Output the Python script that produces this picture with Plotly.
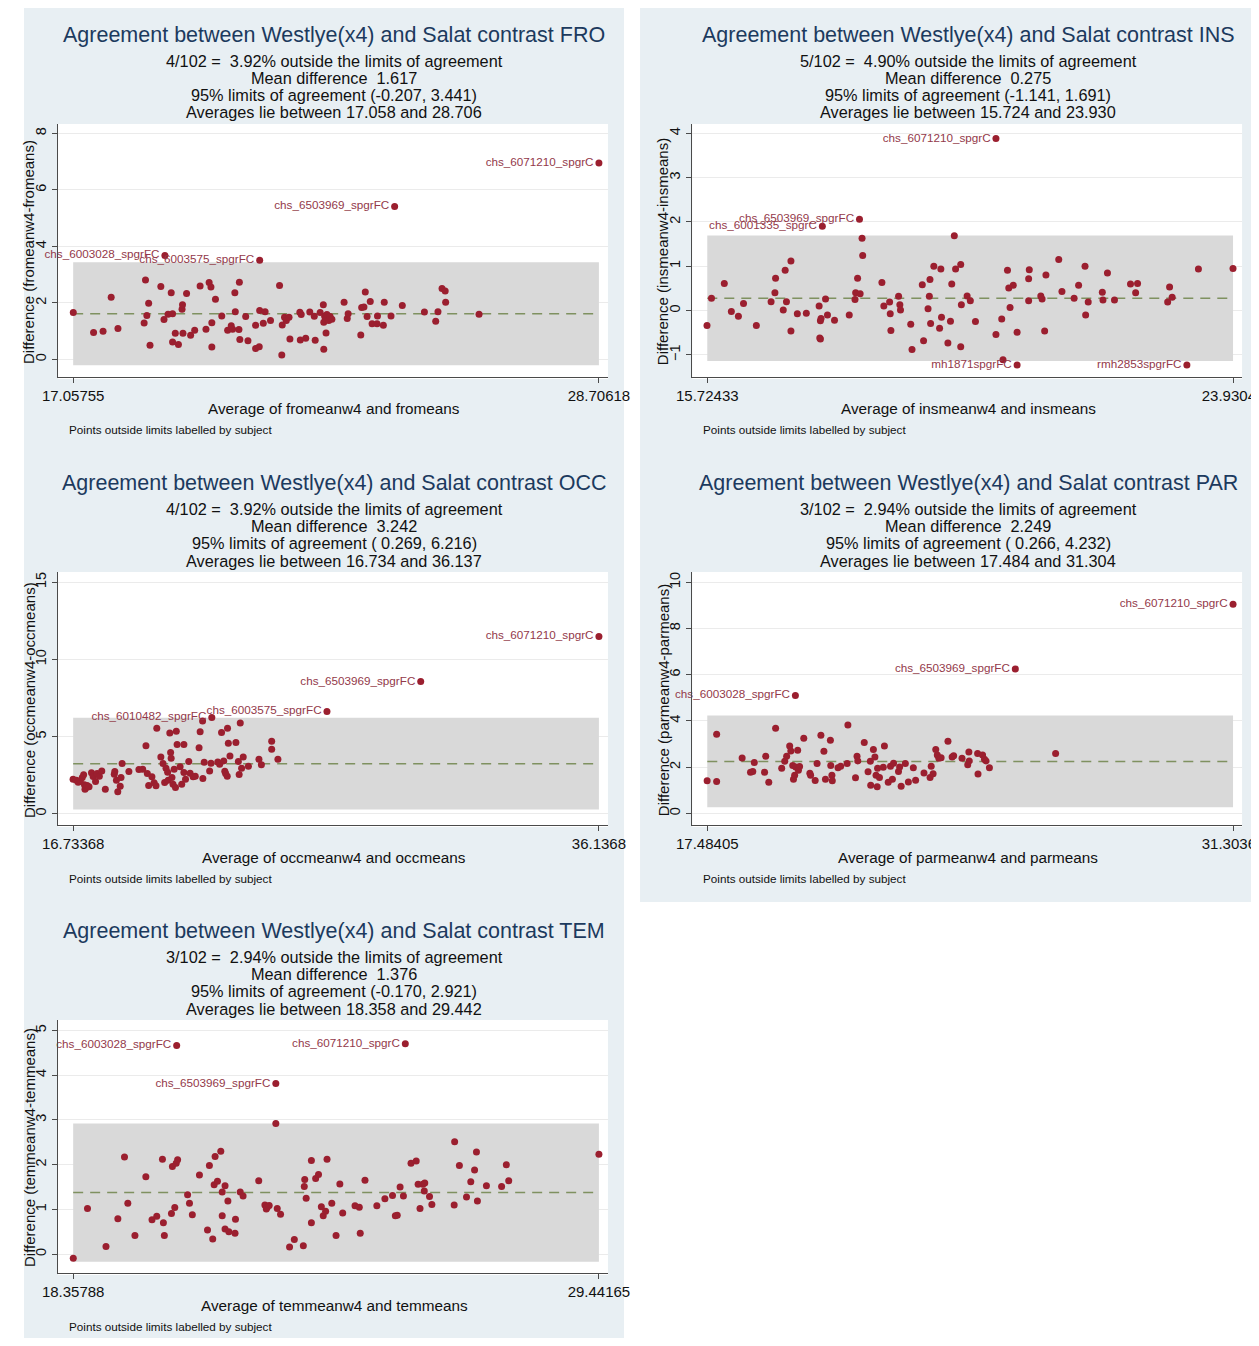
import plotly.graph_objects as go

# The photographed page maps figure-x to picture-x as 24 + 0.967*x and figure-y to 8 + y;
# the figure is laid out in reference-picture pixels through px()/py().
W, H = 1277, 1330
XOFF, XSCALE, YOFF = 24.0, 0.967, 8

# ------------------------------------------------------------------ FRO
fro_avg = [17.06, 17.51, 17.72, 17.90, 18.05, 18.63, 18.66, 18.69, 18.73, 18.76,
           19.00, 19.07, 19.16, 19.23, 19.26, 19.26, 19.32, 19.39, 19.47, 19.48,
           19.49, 19.57, 19.66, 19.75, 19.87, 20.00, 20.07, 20.11, 20.13, 20.13,
           20.21, 20.35, 20.48, 20.56, 20.59, 20.64, 20.65, 20.73, 20.74, 20.75,
           20.88, 20.93, 21.10, 21.10, 21.18, 21.19, 21.27, 21.31, 21.43, 21.63,
           21.68, 21.69, 21.74, 21.78, 21.84, 21.86, 22.08, 22.09, 22.11, 22.21,
           22.30, 22.40, 22.42, 22.53, 22.60, 22.61, 22.61, 22.63, 22.65, 22.66,
           22.68, 22.72, 22.75, 22.79, 23.06, 23.13, 23.15, 23.43, 23.45, 23.50,
           23.53, 23.57, 23.64, 23.68, 23.79, 23.80, 23.93, 23.95, 24.10, 24.35,
           24.84, 25.09, 25.14, 25.23, 25.30, 25.31, 26.05]
fro_diff = [1.66, 0.95, 1.00, 2.20, 1.10, 1.29, 2.81, 1.56, 1.99, 0.50,
            2.58, 1.41, 1.60, 2.36, 1.62, 0.62, 0.93, 0.53, 1.78, 1.94,
            0.93, 2.33, 0.86, 1.03, 2.60, 1.07, 2.72, 2.56, 1.30, 0.44,
            2.13, 1.54, 1.03, 1.19, 1.07, 2.36, 1.69, 1.06, 2.73, 0.71,
            1.52, 0.66, 1.21, 0.39, 0.45, 1.73, 1.28, 1.69, 1.38, 2.62,
            0.16, 1.22, 1.49, 1.38, 1.49, 0.72, 1.67, 0.69, 1.59, 0.75,
            1.68, 1.53, 0.68, 1.66, 1.94, 1.32, 0.36, 1.53, 1.44, 0.94,
            1.59, 1.38, 1.52, 1.42, 2.02, 1.45, 1.62, 0.87, 1.84, 1.86,
            2.39, 1.52, 2.05, 1.26, 1.26, 1.54, 1.21, 2.02, 1.54, 1.91,
            1.68, 1.35, 1.69, 2.51, 2.42, 2.02, 1.60]
fro_out_avg = [28.70618, 24.18, 19.09, 21.19]
fro_out_diff = [6.95, 5.41, 3.68, 3.51]
fro_out_lbl = ["chs_6071210_spgrC", "chs_6503969_spgrFC", "chs_6003028_spgrFC", "chs_6003575_spgrFC"]
fro_stats = [1.617, -0.207, 3.441]          # mean, lower, upper
fro_xlim = [17.05755, 28.70618]
fro_xlbl = ["17.05755", "28.70618"]
fro_yticks = [0, 2, 4, 6, 8]
fro_text = ["4/102 =\u00a0\u00a03.92% outside the limits of agreement",
            "Mean difference\u00a0\u00a01.617",
            "95% limits of agreement (-0.207, 3.441)",
            "Averages lie between 17.058 and 28.706"]

# ------------------------------------------------------------------ INS
ins_avg = [15.72, 15.79, 15.99, 16.10, 16.21, 16.29, 16.49, 16.72, 16.78, 16.79,
           16.91, 16.94, 16.96, 17.03, 17.03, 17.13, 17.27, 17.47, 17.48, 17.49,
           17.49, 17.50, 17.57, 17.60, 17.71, 17.94, 18.03, 18.04, 18.07, 18.11,
           18.14, 18.15, 18.45, 18.48, 18.57, 18.58, 18.59, 18.71, 18.73, 18.74,
           18.90, 18.92, 19.08, 19.10, 19.17, 19.20, 19.19, 19.21, 19.26, 19.35,
           19.37, 19.38, 19.48, 19.52, 19.54, 19.58, 19.60, 19.68, 19.69, 19.68,
           19.78, 19.83, 19.91, 20.23, 20.32, 20.34, 20.41, 20.43, 20.45, 20.50,
           20.56, 20.74, 20.75, 20.74, 20.93, 20.95, 20.99, 21.01, 21.21, 21.26,
           21.45, 21.52, 21.62, 21.63, 21.67, 21.89, 21.90, 21.97, 22.08, 22.33,
           22.41, 22.44, 22.91, 22.94, 22.98, 23.39, 23.93]
ins_diff = [-0.34, 0.28, 0.61, -0.02, -0.13, 0.16, -0.34, 0.20, 0.40, 0.73,
            0.01, 0.91, 0.20, 1.12, -0.46, -0.07, -0.06, 0.10, -0.62, -0.64,
            -0.23, -0.18, 0.26, -0.10, -0.22, -0.10, 0.25, 0.40, 0.73, 0.38,
            1.63, 1.24, 0.63, 0.10, 0.19, -0.07, -0.45, 0.32, 0.13, 0.01,
            -0.31, -0.88, 0.58, -0.68, 0.04, 0.70, 0.32, -0.29, 1.00, -0.40,
            0.94, -0.15, -0.73, -0.24, 0.60, 1.69, 0.94, 1.04, 0.13, -0.82,
            0.33, 0.22, -0.25, -0.54, -0.19, -1.11, 0.91, 0.51, 0.07, 0.57,
            -0.49, 0.72, 0.92, 0.22, 0.33, 0.26, -0.46, 0.80, 1.15, 0.43,
            0.28, 0.57, 1.00, -0.10, 0.19, 0.41, 0.24, 0.85, 0.24, 0.60,
            0.40, 0.61, 0.19, 0.53, 0.30, 0.94, 0.95]
ins_out_avg = [20.23, 18.10, 17.52, 20.56, 23.21]
ins_out_diff = [3.88, 2.06, 1.90, -1.23, -1.23]
ins_out_lbl = ["chs_6071210_spgrC", "chs_6503969_spgrFC", "chs_6001335_spgrC", "mh1871spgrFC", "rmh2853spgrFC"]
ins_stats = [0.275, -1.141, 1.691]
ins_xlim = [15.72433, 23.93042]
ins_xlbl = ["15.72433", "23.93042"]
ins_yticks = [-1, 0, 1, 2, 3, 4]
ins_text = ["5/102 =\u00a0\u00a04.90% outside the limits of agreement",
            "Mean difference\u00a0\u00a00.275",
            "95% limits of agreement (-1.141, 1.691)",
            "Averages lie between 15.724 and 23.930"]

# ------------------------------------------------------------------ OCC
occ_avg = [16.73, 16.85, 16.92, 17.00, 17.07, 17.12, 17.15, 17.17, 17.22, 17.25,
           17.32, 17.41, 17.47, 17.56, 17.62, 17.70, 17.79, 17.92, 18.25, 18.27,
           18.33, 18.38, 18.47, 18.54, 18.50, 18.79, 19.16, 19.30, 19.42, 19.47,
           19.52, 19.64, 19.72, 19.79, 19.82, 19.97, 20.05, 20.11, 20.16, 20.22,
           20.24, 20.30, 20.33, 20.35, 20.38, 20.42, 20.46, 20.51, 20.54, 20.57,
           20.68, 20.74, 20.82, 20.82, 20.88, 21.00, 21.05, 21.16, 21.24, 21.38,
           21.42, 21.51, 21.52, 21.57, 21.77, 21.82, 22.07, 22.14, 22.21, 22.29,
           22.33, 22.36, 22.42, 22.43, 22.46, 22.52, 22.74, 22.83, 22.86, 22.90,
           22.95, 23.01, 23.20, 23.59, 23.68, 24.06, 24.06, 24.29]
occ_diff = [2.24, 2.17, 2.04, 2.13, 2.34, 2.52, 1.87, 1.59, 1.70, 1.83,
            1.74, 2.65, 2.41, 2.09, 2.60, 2.43, 2.77, 1.59, 2.56, 2.73,
            2.17, 1.42, 1.78, 3.25, 2.34, 2.73, 2.86, 2.88, 4.41, 2.60,
            1.83, 2.39, 2.00, 1.81, 5.53, 3.68, 3.25, 2.02, 2.95, 2.69,
            2.17, 5.23, 3.96, 3.59, 2.34, 1.91, 2.88, 1.70, 5.35, 4.49,
            3.05, 1.91, 4.49, 2.67, 2.24, 3.38, 2.62, 2.39, 2.43, 4.28,
            5.31, 6.00, 2.28, 3.33, 2.77, 3.27, 3.35, 3.20, 5.27, 3.42,
            2.75, 2.60, 2.43, 5.53, 4.56, 3.74, 4.62, 3.38, 2.54, 5.87,
            2.95, 3.68, 3.08, 3.53, 3.18, 4.69, 4.17, 3.53]
occ_out_avg = [36.1368, 29.56, 26.10, 21.85]
occ_out_diff = [11.48, 8.56, 6.62, 6.24]
occ_out_lbl = ["chs_6071210_spgrC", "chs_6503969_spgrFC", "chs_6003575_spgrFC", "chs_6010482_spgrFC"]
occ_stats = [3.242, 0.269, 6.216]
occ_xlim = [16.73368, 36.1368]
occ_xlbl = ["16.73368", "36.1368"]
occ_yticks = [0, 5, 10, 15]
occ_text = ["4/102 =\u00a0\u00a03.92% outside the limits of agreement",
            "Mean difference\u00a0\u00a03.242",
            "95% limits of agreement (\u00a00.269, 6.216)",
            "Averages lie between 16.734 and 36.137"]

# ------------------------------------------------------------------ PAR
par_avg = [17.48, 17.73, 17.73, 18.40, 18.62, 18.68, 18.72, 18.99, 19.02, 19.10,
           19.28, 19.44, 19.52, 19.57, 19.65, 19.68, 19.73, 19.75, 19.78, 19.81,
           19.86, 19.88, 19.91, 20.02, 20.18, 20.20, 20.32, 20.37, 20.47, 20.55,
           20.59, 20.72, 20.73, 20.76, 20.77, 20.92, 20.99, 21.16, 21.18, 21.38,
           21.42, 21.44, 21.61, 21.71, 21.77, 21.78, 21.85, 21.89, 21.92, 21.95,
           21.96, 22.01, 22.14, 22.11, 22.24, 22.30, 22.35, 22.38, 22.51, 22.54,
           22.58, 22.69, 22.77, 22.90, 22.96, 23.18, 23.34, 23.37, 23.42, 23.49,
           23.53, 23.57, 23.63, 23.81, 23.92, 23.96, 24.18, 24.33, 24.36, 24.37,
           24.59, 24.60, 24.72, 24.77, 24.81, 24.90, 26.64]
par_diff = [1.41, 3.42, 1.38, 2.40, 1.78, 1.81, 2.20, 1.78, 2.47, 1.35,
            3.68, 1.95, 2.26, 2.47, 2.92, 2.70, 2.07, 1.48, 1.65, 2.01,
            2.73, 1.87, 2.03, 3.25, 1.74, 1.65, 1.42, 2.16, 3.38, 2.69,
            1.48, 3.16, 2.07, 1.65, 1.41, 1.98, 2.04, 2.16, 3.82, 1.54,
            2.47, 2.27, 3.07, 1.80, 2.26, 1.22, 2.76, 2.44, 1.65, 1.15,
            1.95, 1.55, 2.92, 2.00, 1.35, 2.04, 1.48, 2.17, 1.81, 2.01,
            1.18, 2.16, 1.36, 1.98, 1.44, 1.75, 1.55, 2.04, 1.72, 2.76,
            2.53, 2.39, 2.41, 3.12, 2.44, 2.49, 2.39, 2.10, 2.66, 2.27,
            2.59, 1.70, 2.53, 2.34, 2.27, 1.98, 2.59]
par_out_avg = [31.30363, 25.58, 19.80]
par_out_diff = [9.05, 6.25, 5.10]
par_out_lbl = ["chs_6071210_spgrC", "chs_6503969_spgrFC", "chs_6003028_spgrFC"]
par_stats = [2.249, 0.266, 4.232]
par_xlim = [17.48405, 31.30363]
par_xlbl = ["17.48405", "31.30363"]
par_yticks = [0, 2, 4, 6, 8, 10]
par_text = ["3/102 =\u00a0\u00a02.94% outside the limits of agreement",
            "Mean difference\u00a0\u00a02.249",
            "95% limits of agreement (\u00a00.266, 4.232)",
            "Averages lie between 17.484 and 31.304"]

# ------------------------------------------------------------------ TEM
tem_avg = [18.36, 18.66, 19.05, 19.30, 19.44, 19.51, 19.66, 19.89, 20.02, 20.12,
           20.24, 20.26, 20.28, 20.43, 20.45, 20.50, 20.53, 20.56, 20.77, 20.81,
           20.87, 21.02, 21.19, 21.23, 21.30, 21.35, 21.33, 21.40, 21.47, 21.50,
           21.50, 21.56, 21.56, 21.62, 21.64, 21.77, 21.78, 21.88, 21.94, 22.27,
           22.40, 22.43, 22.45, 22.49, 22.63, 22.66, 22.73, 22.92, 23.02, 23.21,
           23.23, 23.24, 23.27, 23.38, 23.38, 23.47, 23.53, 23.59, 23.63, 23.68,
           23.71, 23.81, 23.90, 23.98, 24.04, 24.30, 24.39, 24.41, 24.51, 24.76,
           24.93, 25.09, 25.15, 25.19, 25.25, 25.32, 25.48, 25.59, 25.63, 25.67,
           25.73, 25.76, 25.77, 25.87, 25.92, 26.40, 26.39, 26.50, 26.65, 26.74,
           26.82, 26.86, 26.88, 27.07, 27.39, 27.49, 27.54, 29.44165]
tem_diff = [-0.09, 1.02, 0.17, 0.79, 2.17, 1.14, 0.42, 1.73, 0.77, 0.85,
            2.12, 0.70, 0.42, 0.91, 1.96, 1.04, 2.03, 2.11, 1.33, 1.14,
            0.88, 1.77, 0.54, 1.98, 0.34, 2.18, 1.55, 1.63, 2.30, 0.86,
            1.39, 1.53, 0.56, 1.19, 0.50, 0.47, 0.78, 1.39, 1.30, 1.64,
            1.10, 1.01, 1.05, 1.09, 2.92, 1.02, 0.89, 0.16, 0.33, 0.19,
            1.51, 1.67, 1.25, 2.09, 0.70, 1.69, 1.78, 1.06, 0.86, 0.96,
            2.12, 1.14, 0.42, 1.57, 0.92, 1.08, 1.05, 0.47, 1.65, 1.08,
            1.24, 1.31, 0.86, 0.87, 1.50, 1.30, 2.03, 2.08, 1.56, 1.02,
            1.56, 1.41, 1.59, 1.29, 1.11, 2.51, 1.10, 1.98, 1.28, 1.62,
            1.88, 2.28, 1.19, 1.53, 1.51, 2.00, 1.64, 2.23]
tem_out_avg = [20.54, 25.36, 22.63]
tem_out_diff = [4.66, 4.70, 3.81]
tem_out_lbl = ["chs_6003028_spgrFC", "chs_6071210_spgrC", "chs_6503969_spgrFC"]
tem_stats = [1.376, -0.170, 2.921]
tem_xlim = [18.35788, 29.44165]
tem_xlbl = ["18.35788", "29.44165"]
tem_yticks = [0, 1, 2, 3, 4, 5]
tem_text = ["3/102 =\u00a0\u00a02.94% outside the limits of agreement",
            "Mean difference\u00a0\u00a01.376",
            "95% limits of agreement (-0.170, 2.921)",
            "Averages lie between 18.358 and 29.442"]

# ------------------------------------------------------------------ layout spec
panels = [
    dict(code="FRO", var="fromean", avg=fro_avg, diff=fro_diff, oa=fro_out_avg, od=fro_out_diff,
         ol=fro_out_lbl, stats=fro_stats, xlim=fro_xlim, xlbl=fro_xlbl, yticks=fro_yticks,
         text=fro_text, origin=(0, 0), yrange=[-0.62, 8.33]),
    dict(code="INS", var="insmean", avg=ins_avg, diff=ins_diff, oa=ins_out_avg, od=ins_out_diff,
         ol=ins_out_lbl, stats=ins_stats, xlim=ins_xlim, xlbl=ins_xlbl, yticks=ins_yticks,
         text=ins_text, origin=(632, 0), yrange=[-1.50, 4.21]),
    dict(code="OCC", var="occmean", avg=occ_avg, diff=occ_diff, oa=occ_out_avg, od=occ_out_diff,
         ol=occ_out_lbl, stats=occ_stats, xlim=occ_xlim, xlbl=occ_xlbl, yticks=occ_yticks,
         text=occ_text, origin=(0, 448), yrange=[-0.73, 15.66]),
    dict(code="PAR", var="parmean", avg=par_avg, diff=par_diff, oa=par_out_avg, od=par_out_diff,
         ol=par_out_lbl, stats=par_stats, xlim=par_xlim, xlbl=par_xlbl, yticks=par_yticks,
         text=par_text, origin=(632, 448), yrange=[-0.50, 10.44]),
    dict(code="TEM", var="temmean", avg=tem_avg, diff=tem_diff, oa=tem_out_avg, od=tem_out_diff,
         ol=tem_out_lbl, stats=tem_stats, xlim=tem_xlim, xlbl=tem_xlbl, yticks=tem_yticks,
         text=tem_text, origin=(0, 896), yrange=[-0.42, 5.23]),
]

FONT = "Liberation Sans, Arial, Helvetica, sans-serif"
BG = "#e8eff3"
PT = "#9b1f2f"
LBL = "#93394a"
AX = "#4a4a4a"
TITLE = "#1c3a5e"


def px(x):
    return min(max(((x - XOFF) / XSCALE) / W, 0), 1)


def py(y):
    return min(max(1 - (y - YOFF) / H, 0), 1)


fig = go.Figure()
shapes = [
    dict(type="rect", xref="paper", yref="paper", x0=px(6), x1=px(622), y0=py(1346), y1=py(6),
         fillcolor=BG, line_width=0, layer="below"),
    dict(type="rect", xref="paper", yref="paper", x0=px(638), x1=px(1254), y0=py(902), y1=py(6),
         fillcolor=BG, line_width=0, layer="below"),
]
annotations = []
axes = {}

for i, p in enumerate(panels):
    k = "" if i == 0 else str(i + 1)
    xa, ya = "x" + k, "y" + k
    ox, oy = p["origin"]
    x0p, x1p = 58 + ox, 606 + ox
    y0p, y1p = 124 + oy, 377 + oy
    shapes.append(dict(type="rect", xref="paper", yref="paper", x0=px(x0p), x1=px(x1p),
                       y0=py(y1p + 2), y1=py(y0p), fillcolor="white", line_width=0, layer="below"))
    lo_px, hi_px = 73 + ox, 597 + ox
    xmin, xmax = p["xlim"]
    scale = (hi_px - lo_px) / (xmax - xmin)
    xr = [xmin - (lo_px - x0p) / scale, xmax + (x1p - hi_px) / scale]
    axes["xaxis" + k] = dict(domain=[px(x0p), px(x1p)], range=xr, anchor=ya,
                             tickmode="array", tickvals=[xmin, xmax], ticktext=p["xlbl"],
                             showgrid=False, zeroline=False, showline=True, linecolor=AX, linewidth=1,
                             ticks="outside", ticklen=5, tickcolor=AX,
                             tickfont=dict(family=FONT, size=15, color="#111"))
    axes["yaxis" + k] = dict(domain=[py(y1p), py(y0p)], range=p["yrange"], anchor=xa,
                             tickmode="array", tickvals=p["yticks"], tickangle=-90,
                             showgrid=True, gridcolor="#ebebeb", gridwidth=1, zeroline=False,
                             showline=True, linecolor=AX, linewidth=1,
                             ticks="outside", ticklen=5, tickcolor=AX,
                             tickfont=dict(family=FONT, size=14.5, color="#111"))
    mean, lo, hi = p["stats"]
    shapes.append(dict(type="rect", xref=xa, yref=ya, x0=xmin, x1=xmax, y0=lo, y1=hi,
                       fillcolor="#d9d9d9", line_width=0, layer="between"))
    shapes.append(dict(type="line", xref=xa, yref=ya, x0=xmin, x1=xmax, y0=mean, y1=mean,
                       line=dict(color="#7f9160", width=1.5, dash="10px,7px"), layer="between"))
    fig.add_trace(go.Scatter(x=p["avg"], y=p["diff"], mode="markers", xaxis=xa, yaxis=ya,
                             marker=dict(color=PT, size=7), showlegend=False, hoverinfo="x+y"))
    fig.add_trace(go.Scatter(x=p["oa"], y=p["od"], mode="markers+text", xaxis=xa, yaxis=ya,
                             text=p["ol"], textposition="middle left", cliponaxis=False,
                             textfont=dict(family=FONT, size=11.7, color=LBL),
                             marker=dict(color=PT, size=7), showlegend=False, hoverinfo="x+y+text"))
    cx = 333 + ox
    annotations.append(dict(text="Agreement between Westlye(x4) and Salat contrast " + p["code"],
                            x=px(cx), y=py(35 + oy), xref="paper", yref="paper", showarrow=False,
                            xanchor="center", yanchor="middle",
                            font=dict(family=FONT, size=21.5, color=TITLE)))
    for j, line in enumerate(p["text"]):
        annotations.append(dict(text=line, x=px(cx), y=py(60.6 + 17.3 * j + oy), xref="paper",
                                yref="paper", showarrow=False, xanchor="center", yanchor="middle",
                                borderpad=0,
                                font=dict(family=FONT, size=16.3, color="#111")))
    v = p["var"]
    annotations.append(dict(text=f"Average of {v}w4 and {v}s", x=px(cx), y=py(409 + oy),
                            xref="paper", yref="paper", showarrow=False, xanchor="center",
                            yanchor="middle", font=dict(family=FONT, size=15.3, color="#111")))
    annotations.append(dict(text=f"Difference ({v}w4-{v}s)", x=px(29 + ox), y=py(252 + oy),
                            xref="paper", yref="paper", showarrow=False, textangle=-90,
                            xanchor="center", yanchor="middle",
                            font=dict(family=FONT, size=15, color="#111")))
    annotations.append(dict(text="Points outside limits labelled by subject", x=px(67 + ox),
                            y=py(430 + oy), xref="paper", yref="paper", showarrow=False,
                            xanchor="left", yanchor="middle",
                            font=dict(family=FONT, size=11.7, color="#111")))

fig.update_layout(width=W, height=H, autosize=False, margin=dict(l=0, r=0, t=0, b=0),
                  paper_bgcolor="white", plot_bgcolor="rgba(0,0,0,0)",
                  shapes=shapes, annotations=annotations, showlegend=False, **axes)

fig.write_html("out.html")
